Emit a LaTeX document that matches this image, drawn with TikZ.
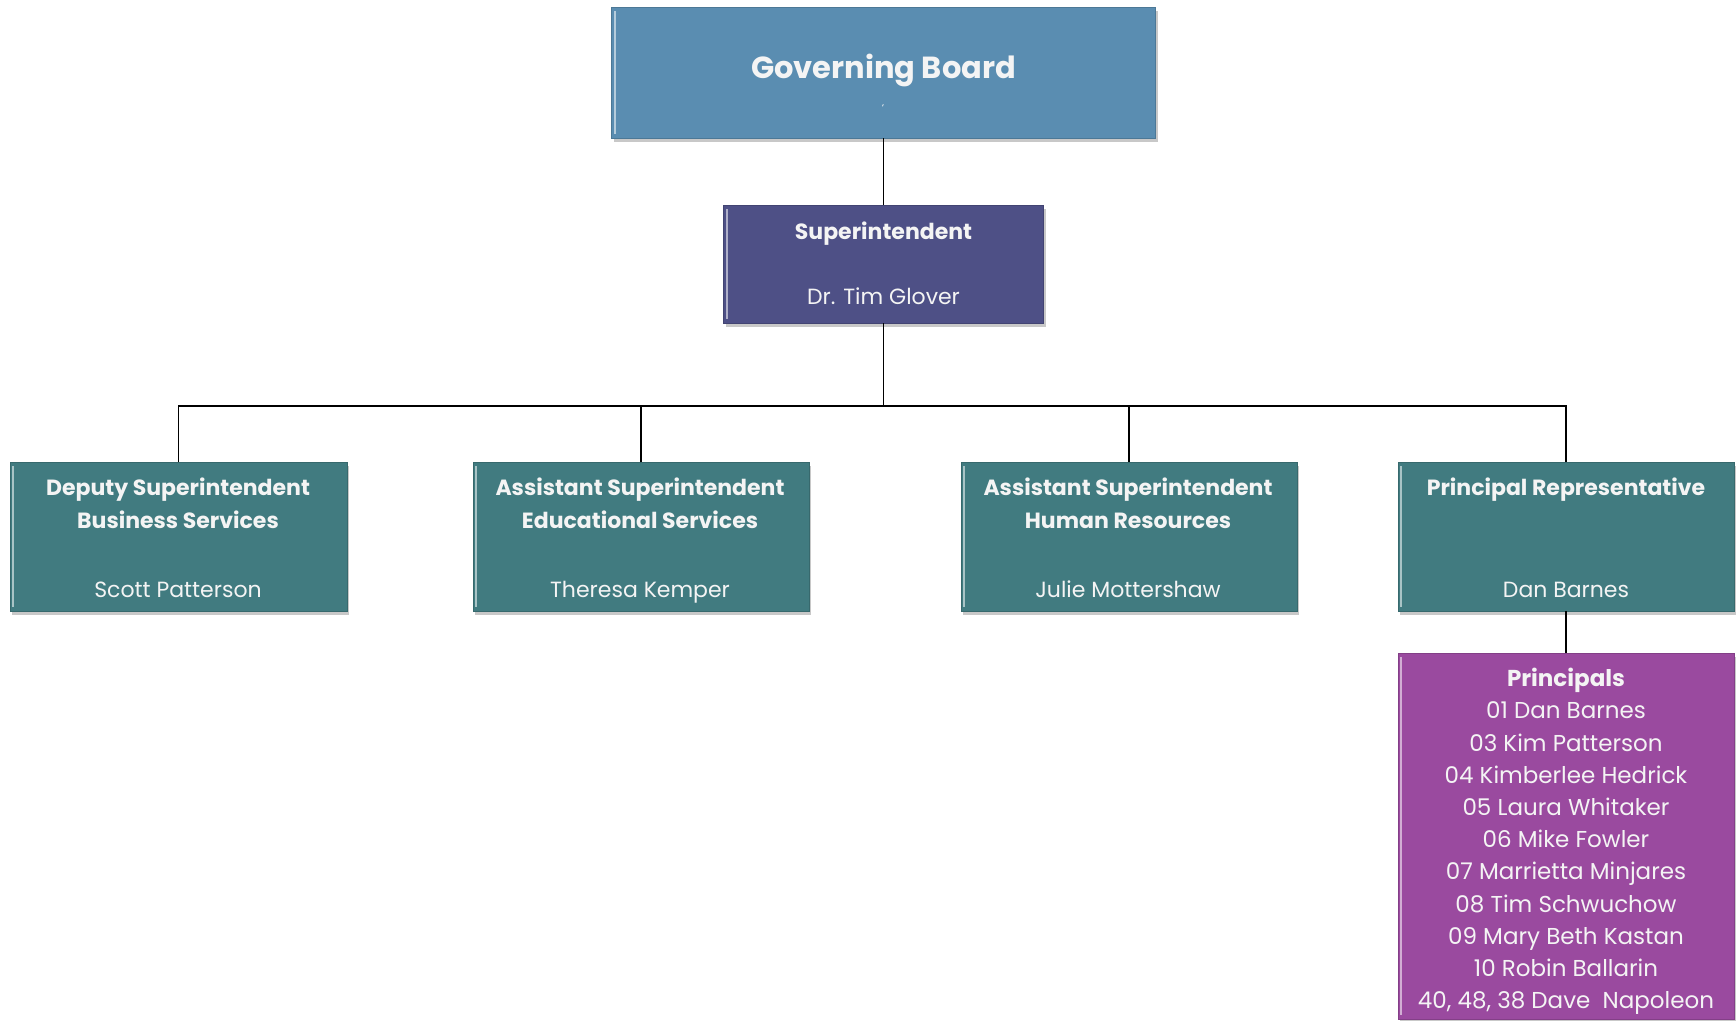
\documentclass[tikz,border=0pt]{standalone}
\usepackage{fontspec}
\setmainfont{Poppins}
\usetikzlibrary{shadows}
\definecolor{gbblue}{HTML}{5A8DB1}
\definecolor{supblue}{HTML}{4E5086}
\definecolor{boxteal}{HTML}{417B80}
\definecolor{boxpurple}{HTML}{9A4A9F}
\definecolor{txtw}{HTML}{F4F4F4}
\begin{document}
\begin{tikzpicture}[x=1pt,y=-1pt,
  box/.style={draw=#1!85!black, line width=1pt, fill=#1, inner sep=0pt, outer sep=0pt,
    drop shadow={shadow xshift=2pt, shadow yshift=-4pt, opacity=0.3, fill=black!70}},
  txt/.style={text=txtw, inner sep=0pt, align=center},
  head/.style={txt, font=\bfseries\fontsize{22}{26}\selectfont},
  nm/.style={txt, font=\fontsize{22}{26}\selectfont},
  plist/.style={txt, font=\fontsize{23}{32.2}\selectfont},
  conn/.style={draw=black, line width=1.8pt},
  bevel/.style={draw=#1!45!white, line width=2pt}]
\useasboundingbox (0,0) rectangle (1736,1020);
\fill[white] (0,0) rectangle (1736,1020);

% boxes
\node[box=gbblue, minimum width=544pt, minimum height=131pt] (gb) at (883.5,72.5) {};
\node[box=supblue, minimum width=320pt, minimum height=118pt] (sup) at (883.5,264) {};
\node[box=boxteal, minimum width=337pt, minimum height=149pt] (b1) at (178.5,536.5) {};
\node[box=boxteal, minimum width=336pt, minimum height=149pt] (b2) at (641,536.5) {};
\node[box=boxteal, minimum width=336pt, minimum height=149pt] (b3) at (1129,536.5) {};
\node[box=boxteal, minimum width=336pt, minimum height=149pt] (b4) at (1566,536.5) {};
\node[box=boxpurple, minimum width=336pt, minimum height=366pt] (pr) at (1566,836) {};

% bevel highlights
\foreach \n/\c in {gb/gbblue,sup/supblue,b1/boxteal,b2/boxteal,b3/boxteal,b4/boxteal,pr/boxpurple}{
  \draw[bevel=\c] ([xshift=3pt,yshift=-4pt]\n.north west) -- ([xshift=3pt,yshift=4pt]\n.south west);
}

% connectors
\coordinate (bar) at (883.5,406);
\draw[conn] (gb.south) -- (sup.north);
\draw[conn] (sup.south) -- (bar);
\draw[conn] (b1.north) -- (b1.north |- bar) -- (b4.north |- bar) -- (b4.north);
\draw[conn] (b2.north) -- (b2.north |- bar);
\draw[conn] (b3.north) -- (b3.north |- bar);
\draw[conn] (b4.south) -- (pr.north);

% texts
\node[txt, font=\bfseries\fontsize{30.5}{36}\selectfont] (gbt) at (883.5,70) {Governing Board};
\node[txt, font=\fontsize{10}{12}\selectfont] (gbm) at (883,108) {`};
\node[head] (supt) at (883.5,234) {Superintendent};
\node[nm] (supn) at (883.5,296) {Dr. Tim Glover};

\node[head, anchor=base] (b1t) at (178,495) {Deputy Superintendent};
\node[head, anchor=base] (b1u) at (178,528) {Business Services};
\node[nm, anchor=base] (b1n) at (178,597) {Scott Patterson};

\node[head, anchor=base] (b2t) at (640,495) {Assistant Superintendent};
\node[head, anchor=base] (b2u) at (640,528) {Educational Services};
\node[nm, anchor=base] (b2n) at (640,597) {Theresa Kemper};

\node[head, anchor=base] (b3t) at (1128,495) {Assistant Superintendent};
\node[head, anchor=base] (b3u) at (1128,528) {Human Resources};
\node[nm, anchor=base] (b3n) at (1128,597) {Julie Mottershaw};

\node[head, anchor=base] (b4t) at (1566,495) {Principal Representative};
\node[nm, anchor=base] (b4n) at (1566,597) {Dan Barnes};

\node[plist, anchor=north] (prt) at (1566,668) {\textbf{Principals}\\
01 Dan Barnes\\
03 Kim Patterson\\
04 Kimberlee Hedrick\\
05 Laura Whitaker\\
06 Mike Fowler\\
07 Marrietta Minjares\\
08 Tim Schwuchow\\
09 Mary Beth Kastan\\
10 Robin Ballarin\\
40, 48, 38 Dave\ \ Napoleon};
\end{tikzpicture}
\end{document}
